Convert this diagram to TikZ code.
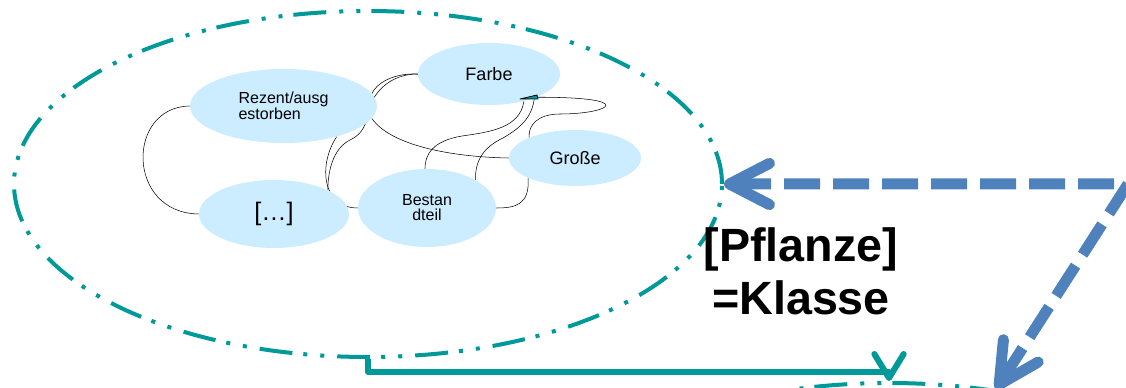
\documentclass[tikz,border=0pt]{standalone}
\usepackage{fontspec}
\setmainfont{Liberation Sans}
\usetikzlibrary{shapes.geometric,arrows.meta,backgrounds}
\definecolor{tuerkis}{RGB}{0,153,153}
\definecolor{hellblau}{RGB}{204,236,255}
\definecolor{stahlblau}{RGB}{79,129,189}
\tikzset{
  blase/.style={ellipse, fill=hellblau, inner sep=0pt},
  rahmen/.style={ellipse, draw=tuerkis, line width=3pt, inner sep=0pt, minimum width=531pt, minimum height=259.5pt,
    dash pattern=on 24.75pt off 8.25pt on 3pt off 9.75pt on 3pt off 9.75pt},
  verb/.style={black, line width=1.5pt},
}
\begin{document}
\begin{tikzpicture}[x=0.75pt,y=-0.75pt,line join=round]
\useasboundingbox (0,0) rectangle (1126,388);
\clip (0,0) rectangle (1126,388);
\node[rahmen] (pflanze) at (368,184) {};
\node[rahmen] (instanz) at (889,556) {};
\node[blase, minimum width=140.25pt, minimum height=55.5pt, align=left, font=\fontsize{12}{10.5}\selectfont] (rez) at (283.5,106) {Rezent/ausg\\estorben};
\node[blase, minimum width=106.5pt, minimum height=46.5pt, font=\fontsize{13.5}{16}\selectfont] (farbe) at (489,74) {Farbe};
\node[blase, minimum width=99pt, minimum height=42pt, font=\fontsize{13.5}{16}\selectfont] (grosse) at (575,158) {Große};
\node[blase, minimum width=112.5pt, minimum height=51pt, font=\fontsize{19}{22}\selectfont] (dots) at (274,214) {[…]};
\node[blase, minimum width=103.5pt, minimum height=58.5pt, align=center, font=\fontsize{12}{11.25}\selectfont] (bestand) at (427,208) {Bestan\\dteil};
\begin{scope}[on background layer, verb]
\draw (rez.west) .. controls (126,107) and (126,213) .. (dots.west);
\draw (farbe.west) .. controls (392,73) and (376,84) .. (rez.8);
\draw (farbe.west) .. controls (388,74) and (372,95) .. (368,112) .. controls (366,130) and (358,136) .. (350,140) .. controls (336,147) and (328,165) .. (dots.24);
\draw (rez.-30) .. controls (318,165) and (322,208) .. (bestand.west);
\draw (rez.-8) .. controls (390,145) and (450,157) .. (grosse.west);
\draw (farbe.-26) .. controls (640,97) and (610,114) .. (560,114) .. controls (538,114) and (528,125) .. (grosse.156);
\draw (farbe.-38) .. controls (520,128) and (490,132) .. (462,136) .. controls (432,141) and (425,155) .. (bestand.93);
\draw (farbe.-28) .. controls (532,118) and (520,128) .. (503,138) .. controls (482,148) and (475,162) .. (bestand.30);
\draw (grosse.203) .. controls (530,205) and (515,208) .. (bestand.east);
\end{scope}
\filldraw[fill=tuerkis, draw=black, line width=0.6pt] (520,99) -- (537,95) -- (538,99) -- cycle;
\node[anchor=north, align=center, inner sep=0pt, font=\bfseries\fontsize{35}{40}\selectfont] (klasse) at (801,227) {[Pflanze]\\=Klasse};
\coordinate (ecke) at (1128,184);
\draw[stahlblau, line width=8.25pt, dash pattern=on 27pt off 9.75pt,
  {Straight Barb[length=30pt,width=31pt,round]}-{Straight Barb[length=30pt,width=31pt,round]}]
  (pflanze.east) -- (ecke) -- (instanz);
\draw[tuerkis, line width=4.5pt, -{Straight Barb[length=18pt,width=22pt,round]}]
  (pflanze.south) -- ++(0,13) -| (instanz.north);
\end{tikzpicture}
\end{document}
